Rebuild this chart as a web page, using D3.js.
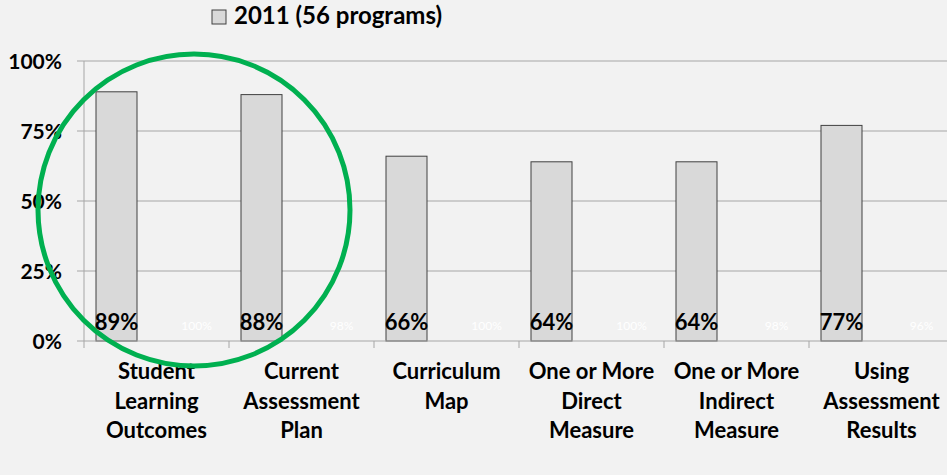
<!DOCTYPE html>
<html>
<head>
<meta charset="utf-8">
<script src="https://cdn.jsdelivr.net/npm/d3@7"></script>
<style>
  html, body { margin: 0; padding: 0; background: #f2f2f2; }
  svg { display: block; font-family: Lato, "Open Sans", sans-serif; }
</style>
</head>
<body>
<div id="chart"></div>
<script>
// Chart data
const categories = [
  ['Student', 'Learning', 'Outcomes'],
  ['Current', 'Assessment', 'Plan'],
  ['Curriculum', 'Map'],
  ['One or More', 'Direct', 'Measure'],
  ['One or More', 'Indirect', 'Measure'],
  ['Using', 'Assessment', 'Results']
];
const values2011 = [89, 88, 66, 64, 64, 77];
const valuesHidden = [100, 98, 100, 100, 98, 96];
const yTicks = [0, 25, 50, 75, 100];
const legendLabel = '2011 (56 programs)';

const W = 947, H = 475;
const margin = { left: 84, top: 61, bottom: 134 };

const svg = d3.select('#chart').append('svg')
  .attr('width', W).attr('height', H);

svg.append('rect').attr('width', W).attr('height', H).attr('fill', '#f2f2f2');

const x = d3.scaleBand()
  .domain(d3.range(categories.length))
  .range([margin.left, margin.left + 145 * categories.length]);

const y = d3.scaleLinear().domain([0, 100]).range([H - margin.bottom, margin.top]);

const barW = 41;

// Gridlines
svg.append('g').selectAll('line')
  .data(yTicks.filter(function(d) { return d > 0; }))
  .enter().append('line')
  .attr('x1', margin.left - 7).attr('x2', W)
  .attr('y1', function(d) { return y(d); })
  .attr('y2', function(d) { return y(d); })
  .attr('stroke', '#a6a6a6').attr('stroke-width', 1);

// Y-axis
svg.append('line')
  .attr('x1', margin.left).attr('x2', margin.left)
  .attr('y1', y(100)).attr('y2', y(0))
  .attr('stroke', '#a6a6a6');

svg.append('g').selectAll('text')
  .data(yTicks)
  .enter().append('text')
  .attr('x', 62).attr('y', function(d) { return y(d) + 8; })
  .attr('text-anchor', 'end')
  .attr('font-size', '21px').attr('font-weight', 'bold').attr('fill', '#000')
  .text(function(d) { return d + '%'; });

// Bars (2011)
svg.append('g').selectAll('rect')
  .data(values2011)
  .enter().append('rect')
  .attr('x', function(d, i) { return x(i) + x.bandwidth() / 2 - 40 - barW / 2; })
  .attr('y', function(d) { return y(d); })
  .attr('width', barW)
  .attr('height', function(d) { return y(0) - y(d); })
  .attr('fill', '#d9d9d9').attr('stroke', '#404040').attr('stroke-width', 1);

// X-axis with ticks
svg.append('line')
  .attr('x1', margin.left - 7).attr('x2', W)
  .attr('y1', y(0)).attr('y2', y(0))
  .attr('stroke', '#a6a6a6');

svg.append('g').selectAll('line')
  .data(d3.range(categories.length))
  .enter().append('line')
  .attr('x1', function(i) { return x(i); }).attr('x2', function(i) { return x(i); })
  .attr('y1', y(0)).attr('y2', y(0) + 7)
  .attr('stroke', '#a6a6a6');

// Data labels (2011)
svg.append('g').selectAll('text')
  .data(values2011)
  .enter().append('text')
  .attr('x', function(d, i) { return x(i) + x.bandwidth() / 2 - 40; })
  .attr('y', y(0) - 11)
  .attr('text-anchor', 'middle')
  .attr('font-size', '22px').attr('font-weight', 'bold').attr('fill', '#000')
  .text(function(d) { return d + '%'; });

// Hidden series labels
svg.append('g').selectAll('text')
  .data(valuesHidden)
  .enter().append('text')
  .attr('x', function(d, i) { return x(i) + x.bandwidth() / 2 + 40; })
  .attr('y', y(0) - 11)
  .attr('text-anchor', 'middle')
  .attr('font-size', '12px').attr('fill', '#ffffff')
  .text(function(d) { return d + '%'; });

// Category labels
const catG = svg.append('g');
categories.forEach(function(lines, i) {
  const t = catG.append('text')
    .attr('text-anchor', 'middle')
    .attr('font-size', '22px').attr('font-weight', 'bold').attr('fill', '#000');
  lines.forEach(function(line, j) {
    t.append('tspan')
      .attr('x', x(i) + x.bandwidth() / 2)
      .attr('y', 379 + j * 29.5)
      .text(line);
  });
});

// Legend
svg.append('rect')
  .attr('x', 212).attr('y', 10).attr('width', 14).attr('height', 14)
  .attr('fill', '#d9d9d9').attr('stroke', '#404040');
svg.append('text')
  .attr('x', 234).attr('y', 24)
  .attr('font-size', '24px').attr('font-weight', 'bold').attr('fill', '#000')
  .text(legendLabel);

// Green highlight ellipse
svg.append('ellipse')
  .attr('cx', 194).attr('cy', 210).attr('rx', 156).attr('ry', 156)
  .attr('fill', 'none').attr('stroke', '#00b050').attr('stroke-width', 5);
</script>
</body>
</html>
